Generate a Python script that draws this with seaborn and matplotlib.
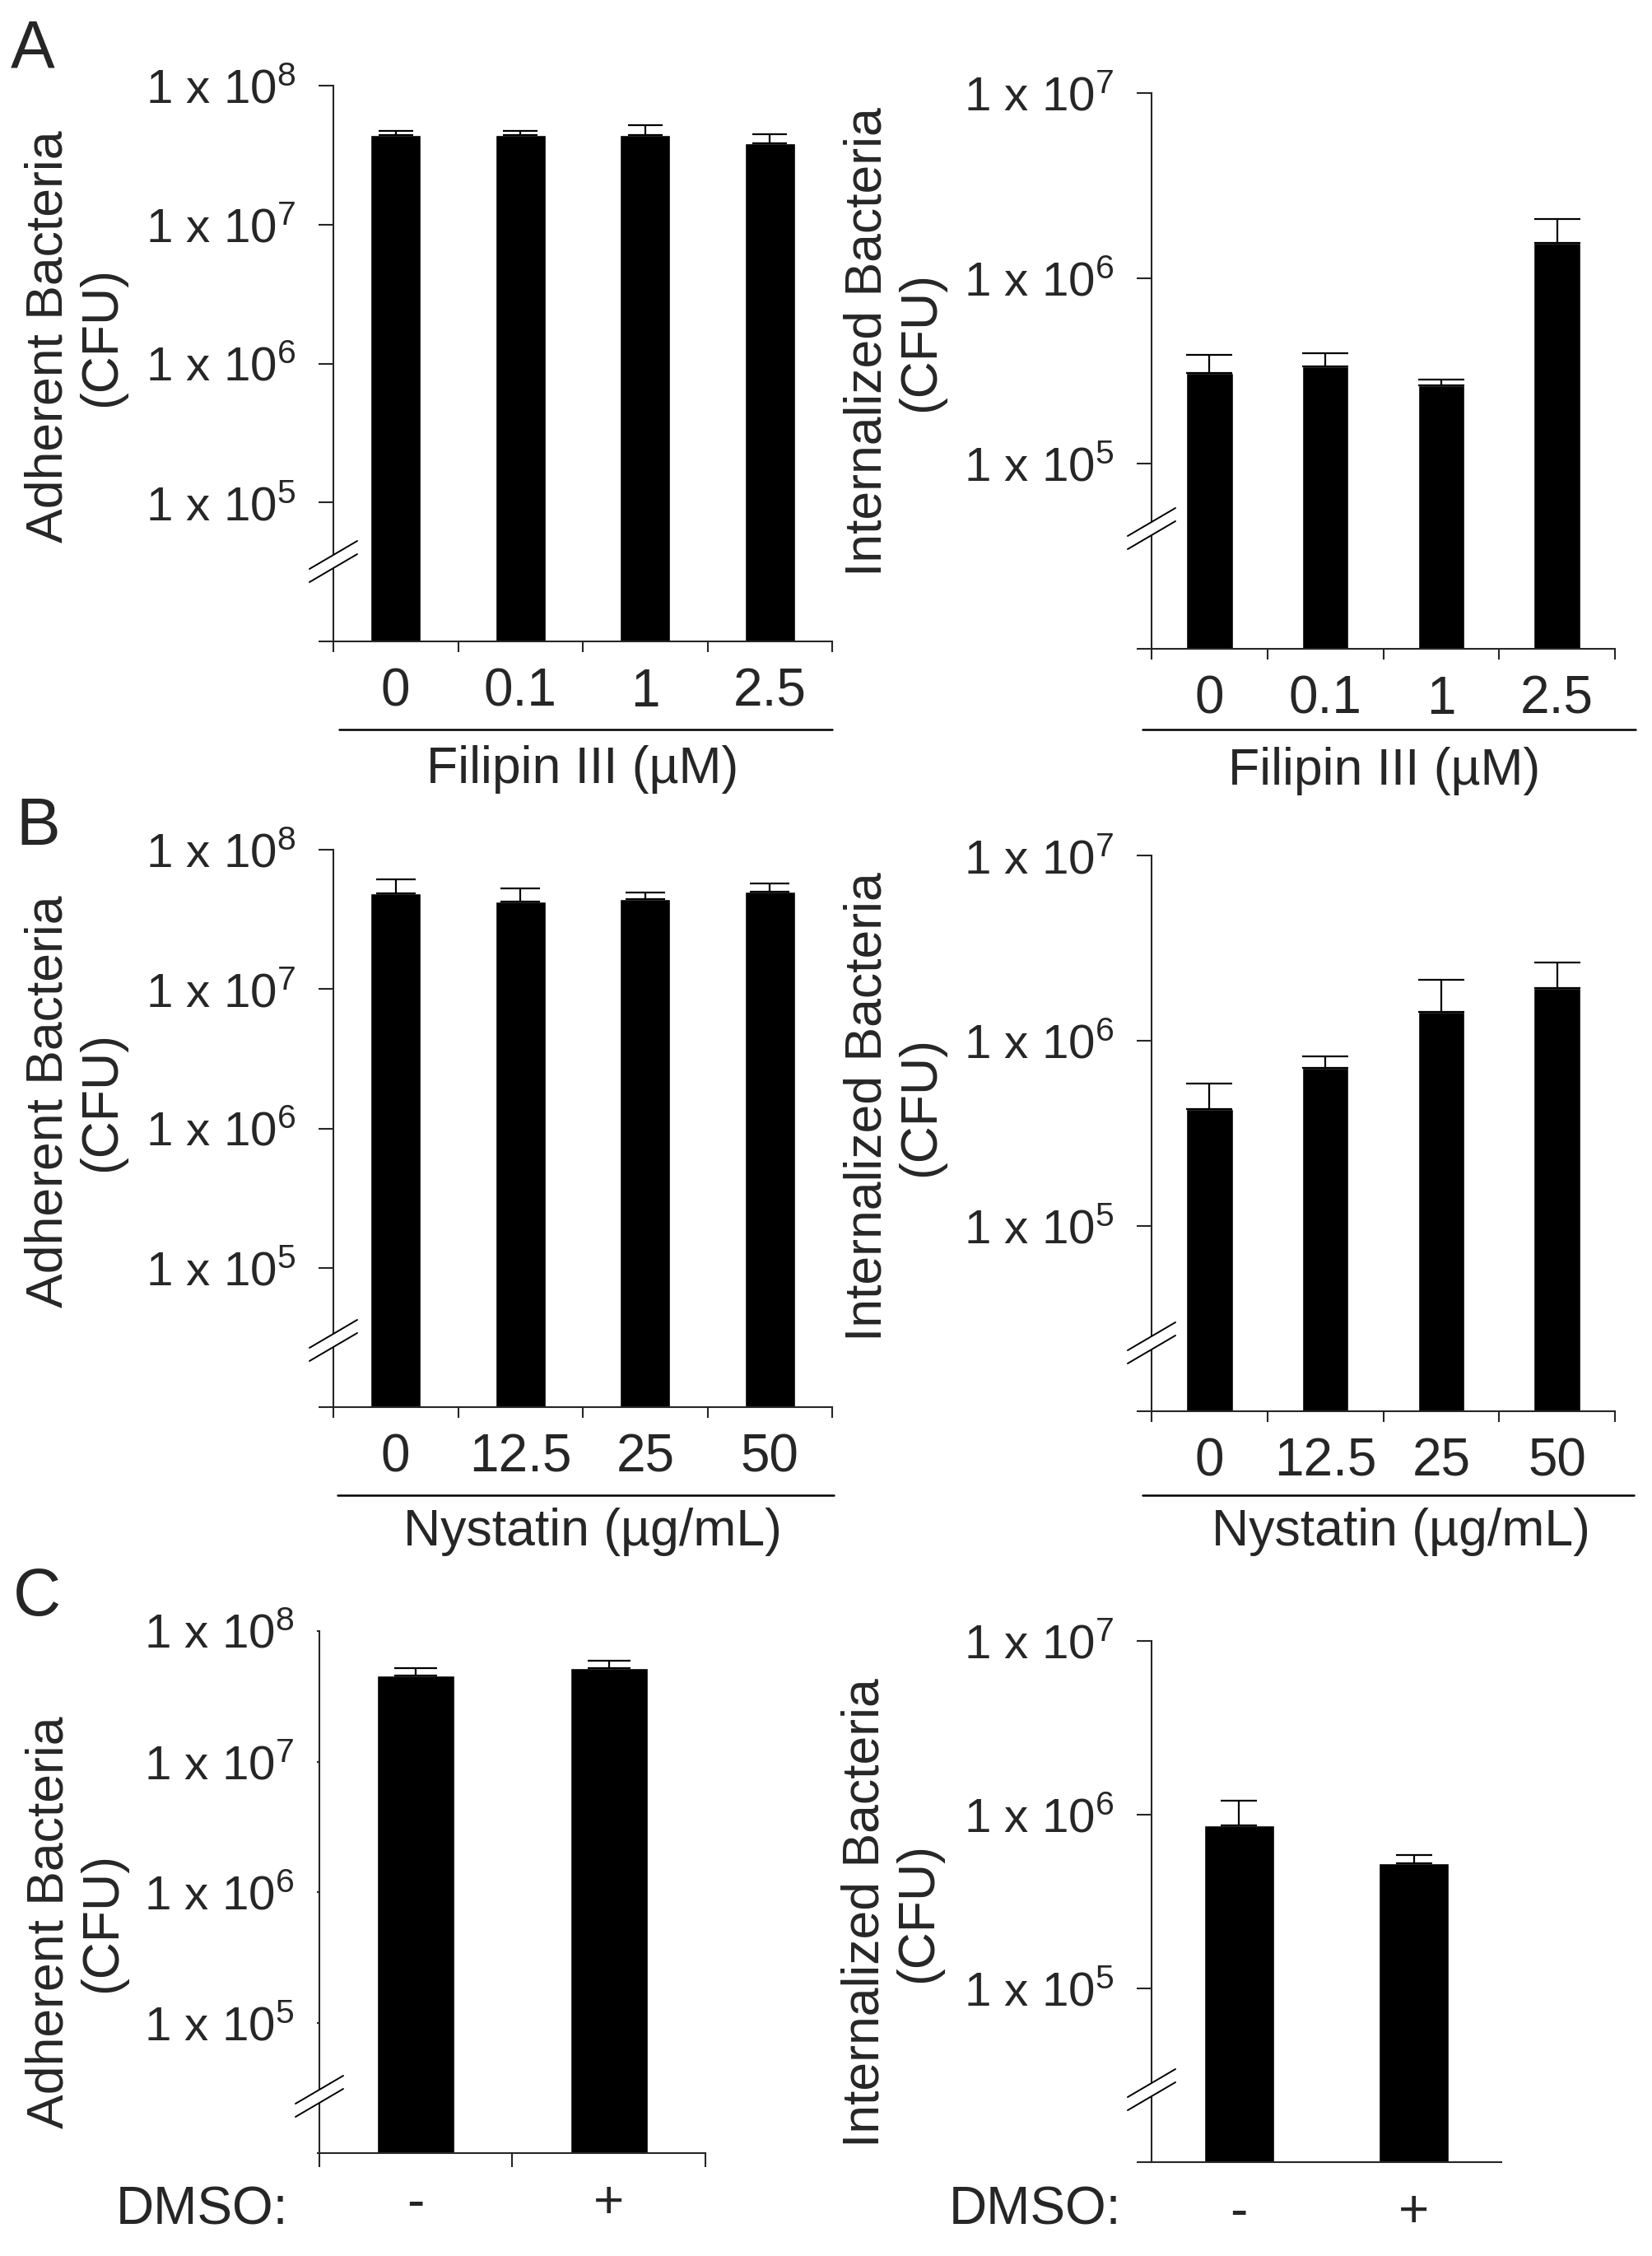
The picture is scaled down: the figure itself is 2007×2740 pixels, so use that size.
import numpy as np
import pandas as pd
import matplotlib
matplotlib.use("Agg")
import matplotlib.pyplot as plt
import seaborn as sns
from matplotlib.lines import Line2D
from matplotlib.patches import Polygon

# data (mean, upper error)
filipin_doses = ["0", "0.1", "1", "2.5"]
filipin_adherent = [4.4e7, 4.4e7, 4.4e7, 3.86e7]
filipin_adherent_err = [0.35e7, 0.35e7, 0.77e7, 0.64e7]
filipin_internal = [3.08e5, 3.36e5, 2.64e5, 1.55e6]
filipin_internal_err = [0.79e5, 0.58e5, 0.20e5, 0.54e6]

nystatin_doses = ["0", "12.5", "25", "50"]
nystatin_adherent = [4.86e7, 4.22e7, 4.41e7, 4.98e7]
nystatin_adherent_err = [1.28e7, 1.03e7, 0.53e7, 0.75e7]
nystatin_internal = [4.27e5, 7.11e5, 1.43e6, 1.93e6]
nystatin_internal_err = [1.61e5, 1.16e5, 0.71e6, 0.71e6]

dmso = ["-", "+"]
dmso_adherent = [4.58e7, 5.2e7]
dmso_adherent_err = [0.62e7, 0.76e7]
dmso_internal = [8.71e5, 5.26e5]
dmso_internal_err = [3.3e5, 0.57e5]

sns.set_style("white")
plt.rcParams["font.family"] = ["Liberation Sans", "DejaVu Sans"]
plt.rcParams["mathtext.fontset"] = "custom"
plt.rcParams["mathtext.rm"] = "Liberation Sans"
plt.rcParams["mathtext.it"] = "Liberation Sans"
plt.rcParams["axes.linewidth"] = 1.5

W, H = 2008, 2740
fig = plt.figure(figsize=(W / 100, H / 100), dpi=100)


def fx(x):
    return x / W


def fy(y):
    return 1 - y / H


def make_ax(x0, y0, x1, y1):
    return fig.add_axes([fx(x0), fy(y1), (x1 - x0) / W, (y1 - y0) / H])


def panel(box, cats, vals, errs, ytop, capsize, xtick_len=9, ytick_len=13):
    ax = make_ax(*box)
    df = pd.DataFrame({"cat": cats, "val": vals})
    sns.barplot(data=df, x="cat", y="val", color="black", width=0.4,
                errorbar=None, ax=ax, saturation=1)
    ax.set_yscale("log")
    ax.errorbar(np.arange(len(cats)), vals, yerr=[np.zeros(len(errs)), errs],
                fmt="none", ecolor="black", elinewidth=1.6, capsize=capsize,
                capthick=1.6, zorder=3)
    ax.set_ylim(1e4, ytop)
    ax.set_xlim(-0.5, len(cats) - 0.5)
    sns.despine(ax=ax)
    exps = list(range(4, int(round(np.log10(ytop))) + 1))
    ax.set_yticks([10.0 ** e for e in exps])
    ax.set_yticklabels([""] + [r"1 x 10$^{%d}$" % e for e in exps[1:]])
    ax.yaxis.set_minor_locator(matplotlib.ticker.NullLocator())
    ax.tick_params(axis="y", which="major", direction="out", length=ytick_len,
                   width=1.5, labelsize=42, pad=20, left=True)
    ax.set_xticks(np.arange(len(cats)))
    ax.set_xticklabels(cats, fontsize=46)
    ax.tick_params(axis="x", which="major", length=0, pad=23)
    if xtick_len:
        ax.set_xticks(np.arange(len(cats) + 1) - 0.5, minor=True)
        ax.tick_params(axis="x", which="minor", direction="out",
                       length=xtick_len, width=1.5, bottom=True)
    ax.set_xlabel("")
    ax.set_ylabel("")
    return ax


def hline(x0, x1, y):
    fig.add_artist(Line2D([fx(x0), fx(x1)], [fy(y), fy(y)], color="black",
                          lw=1.8, transform=fig.transFigure))


def axis_break(cx, cy):
    dx, dy, off = 29, 17, 8
    a = [(cx - dx, cy + dy - off), (cx + dx, cy - dy - off)]
    b = [(cx - dx, cy + dy + off), (cx + dx, cy - dy + off)]
    poly = [a[0], a[1], b[1], b[0]]
    fig.add_artist(Polygon([(fx(x), fy(y)) for x, y in poly], closed=True,
                           facecolor="white", edgecolor="none",
                           transform=fig.transFigure, zorder=3))
    for seg in (a, b):
        fig.add_artist(Line2D([fx(seg[0][0]), fx(seg[1][0])],
                              [fy(seg[0][1]), fy(seg[1][1])], color="black",
                              lw=1.4, transform=fig.transFigure, zorder=4))


def label(x, y, text, **kw):
    kw.setdefault("fontsize", 45)
    kw.setdefault("ha", "center")
    kw.setdefault("va", "center")
    fig.text(fx(x), fy(y), text, **kw)


def ylab(x, y, text):
    label(x, y, text, rotation=90, fontsize=45, multialignment="center",
          linespacing=1.12)


# A
panel((405, 104, 1011, 779), filipin_doses, filipin_adherent,
      filipin_adherent_err, 1e8, 15)
panel((1399, 113, 1962, 788), filipin_doses, filipin_internal,
      filipin_internal_err, 1e7, 20)
# B
panel((405, 1032, 1011, 1709), nystatin_doses, nystatin_adherent,
      nystatin_adherent_err, 1e8, 17)
panel((1399, 1039, 1962, 1714), nystatin_doses, nystatin_internal,
      nystatin_internal_err, 1e7, 20)
# C
panel((388, 1981, 857, 2615), dmso, dmso_adherent, dmso_adherent_err,
      1e8, 19, xtick_len=12, ytick_len=2)
panel((1399, 1993, 1824, 2626), dmso, dmso_internal, dmso_internal_err,
      1e7, 16, xtick_len=0)

# axis breaks
for cx, cy in [(405, 682), (1399, 642), (405, 1628), (1399, 1631),
               (388, 2546), (1399, 2538)]:
    axis_break(cx, cy)

# underlines and axis titles
hline(412, 1011, 886)
hline(1388, 1987, 886)
hline(410, 1013, 1816)
hline(1388, 1985, 1816)
label(708, 934, "Filipin III (µM)")
label(1682, 936, "Filipin III (µM)")
label(720, 1861, "Nystatin (µg/mL)")
label(1702, 1861, "Nystatin (µg/mL)")
label(350, 2684, "DMSO:", ha="right", fontsize=46)
label(1362, 2685, "DMSO:", ha="right", fontsize=46)

# y axis titles
ylab(91, 409, "Adherent Bacteria\n(CFU)")
ylab(1086, 415, "Internalized Bacteria\n(CFU)")
ylab(91, 1338, "Adherent Bacteria\n(CFU)")
ylab(1086, 1344, "Internalized Bacteria\n(CFU)")
ylab(92, 2335, "Adherent Bacteria\n(CFU)")
ylab(1083, 2323, "Internalized Bacteria\n(CFU)")

# panel letters
fig.text(fx(13), fy(82), "A", fontsize=58, ha="left", va="baseline")
fig.text(fx(19), fy(1026), "B", fontsize=58, ha="left", va="baseline")
fig.text(fx(16), fy(1962), "C", fontsize=58, ha="left", va="baseline")

fig.savefig("out.png", dpi=100, facecolor="white")
